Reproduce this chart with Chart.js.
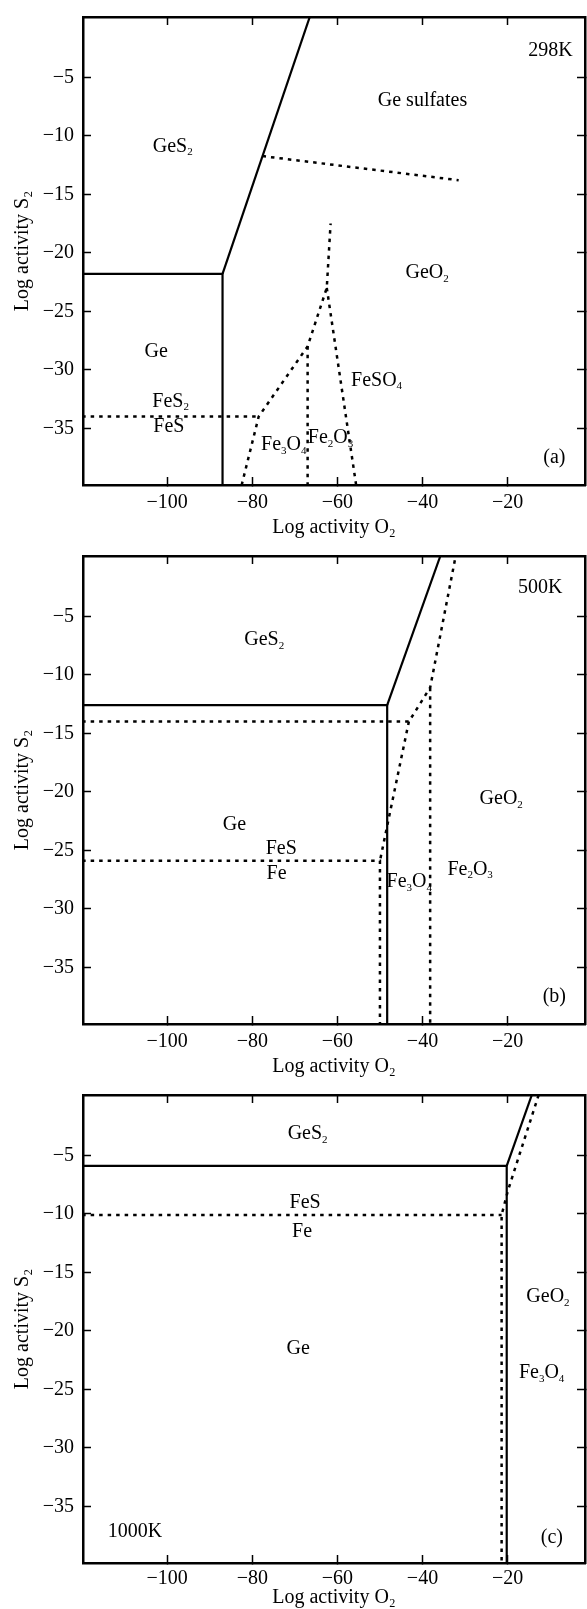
<!DOCTYPE html>
<html>
<head>
<meta charset="utf-8">
<script src="https://cdn.jsdelivr.net/npm/chart.js@4.4.1/dist/chart.umd.min.js"></script>
<style>
  html, body { margin: 0; padding: 0; background: #fff; }
  #wrap { position: relative; width: 587px; height: 1609px; }
  canvas { position: absolute; left: 0; }
</style>
</head>
<body>
<div id="wrap">
  <canvas id="c298" width="587" height="539" style="top:0"></canvas>
  <canvas id="c500" width="587" height="539" style="top:539px"></canvas>
  <canvas id="c1000" width="587" height="531" style="top:1078px"></canvas>
</div>
<script>
// axis ranges and ticks (log activity)
const X_MIN = -119.8, X_MAX = -1.8;
const Y_MIN = -39.85, Y_MAX = 0.15;
const xTicks = [-100, -80, -60, -40, -20];
const yTicks = [-5, -10, -15, -20, -25, -30, -35];

// (a) 298K  -- [log aO2, log aS2]
const a_geSolid = [[-120, -21.8], [-87, -21.8], [-87, -40]];
const a_geSlant = [[-87, -21.8], [-66.5, 0.15]];
const a_sulfate = [[-77.6, -11.74], [-31.5, -13.8]];
const a_feS2FeS = [[-120, -34], [-78.5, -34]];
const a_feLeft = [[-82.5, -39.85], [-78.5, -34], [-67, -28], [-62.5, -23], [-61.6, -17.5]];
const a_feMid = [[-67, -28], [-67, -40]];
const a_feRight = [[-62.5, -23], [-55.6, -39.85]];
const a_labels = [
  ['298K', -9.9, -2.7], ['Ge sulfates', -40, -7], ['GeS_2', -98.7, -10.9],
  ['GeO_2', -38.9, -21.7], ['Ge', -102.6, -28.5], ['FeS_2', -99.2, -32.7],
  ['FeS', -99.6, -34.9], ['FeSO_4', -50.8, -30.9], ['Fe_3O_4', -72.6, -36.4],
  ['Fe_2O_3', -61.6, -35.8], ['(a)', -9, -37.55]
];

// (b) 500K
const b_geSolid = [[-120, -12.6], [-48.3, -12.6], [-48.3, -40]];
const b_geSlant = [[-48.3, -12.6], [-35.8, 0.15]];
const b_feUpper = [[-120, -14], [-43.2, -14], [-38.2, -11.1], [-32.2, 0.15]];
const b_feHem = [[-38.2, -11.1], [-38.2, -40]];
const b_feMag = [[-43.2, -14], [-50, -25.9]];
const b_feLower = [[-120, -25.9], [-50, -25.9], [-50, -40]];
const b_labels = [
  ['500K', -12.3, -2.6], ['GeS_2', -77.2, -7], ['GeO_2', -21.5, -20.6],
  ['Ge', -84.2, -22.8], ['FeS', -73.2, -24.9], ['Fe', -74.3, -27.05],
  ['Fe_3O_4', -43.1, -27.7], ['Fe_2O_3', -28.8, -26.65], ['(b)', -9, -37.5]
];

// (c) 1000K
const c_geSolid = [[-120, -5.9], [-20.2, -5.9], [-20.2, -40]];
const c_geSlant = [[-20.2, -5.9], [-14.3, 0.15]];
const c_feRight = [[-12.7, 0.15], [-19.9, -8], [-21.4, -10.1], [-21.4, -40]];
const c_feS = [[-120, -10.1], [-21.4, -10.1]];
const c_labels = [
  ['GeS_2', -67, -3.2], ['FeS', -67.6, -9.1], ['Fe', -68.3, -11.5],
  ['Ge', -69.2, -21.5], ['GeO_2', -10.5, -17.1], ['Fe_3O_4', -12, -23.6],
  ['1000K', -107.6, -37.2], ['(c)', -9.6, -37.7]
];

const serif = '"Liberation Serif", "Times New Roman", serif';

function pts(arr) {
  return arr.map(([x, y]) => ({x, y}));
}
function solid(arr) {
  return {data: pts(arr), borderColor: '#000', borderWidth: 2.2, showLine: true, pointRadius: 0, fill: false};
}
function dashed(arr) {
  return Object.assign(solid(arr), {borderWidth: 2.5, borderDash: [3.5, 5]});
}

// region names, "_n" -> subscript digit
const regionText = {
  id: 'regionText',
  afterDatasetsDraw(chart, args, opts) {
    const ctx = chart.ctx;
    const xs = chart.scales.x, ys = chart.scales.y;
    ctx.save();
    ctx.fillStyle = '#000';
    ctx.textBaseline = 'middle';
    ctx.textAlign = 'left';
    opts.items.forEach(([txt, vx, vy]) => {
      const parts = txt.split(/(_\d)/).filter(p => p !== '');
      let w = 0;
      parts.forEach(p => {
        ctx.font = p[0] === '_' ? '11px ' + serif : '20px ' + serif;
        w += ctx.measureText(p[0] === '_' ? p.slice(1) : p).width;
      });
      let px = xs.getPixelForValue(vx) - w / 2;
      const py = ys.getPixelForValue(vy);
      parts.forEach(p => {
        if (p[0] === '_') {
          ctx.font = '11px ' + serif;
          ctx.fillText(p.slice(1), px, py + 6);
          px += ctx.measureText(p.slice(1)).width;
        } else {
          ctx.font = '20px ' + serif;
          ctx.fillText(p, px, py);
          px += ctx.measureText(p).width;
        }
      });
    });
    ctx.restore();
  }
};

const gridOpt = {drawOnChartArea: false, drawTicks: true, tickLength: -8, tickWidth: 1.5, color: '#000'};
const borderOpt = {display: true, width: 2.5, color: '#000'};
const minus = v => String(v).replace('-', '\u2212');

// fixed box sizes so the plot frame sits where the figure has it
function fixBox(prop, size) {
  return s => {
    s[prop] = size;
    s.paddingTop = 0; s.paddingBottom = 0; s.paddingLeft = 0; s.paddingRight = 0;
  };
}

function makeScales(bottomH, tickPad) {
  return {
    x: {
      type: 'linear', axis: 'x', position: 'bottom', min: X_MIN, max: X_MAX,
      afterBuildTicks: s => { s.ticks = xTicks.map(v => ({value: v})); },
      afterFit: fixBox('height', bottomH),
      grid: gridOpt, border: borderOpt,
      ticks: {color: '#000', font: {family: serif, size: 20}, padding: tickPad, maxRotation: 0, autoSkip: false, callback: minus},
      title: {display: true, text: 'Log activity O₂', color: '#000', font: {family: serif, size: 20, lineHeight: 1}, padding: {top: 0, bottom: 1}}
    },
    x2: {
      type: 'linear', axis: 'x', position: 'top', min: X_MIN, max: X_MAX,
      afterBuildTicks: s => { s.ticks = xTicks.map(v => ({value: v})); },
      afterFit: fixBox('height', 17),
      grid: gridOpt, border: borderOpt, ticks: {display: false}
    },
    y: {
      type: 'linear', axis: 'y', position: 'left', min: Y_MIN, max: Y_MAX,
      afterBuildTicks: s => { s.ticks = yTicks.map(v => ({value: v})); },
      afterFit: fixBox('width', 83),
      grid: gridOpt, border: borderOpt,
      ticks: {color: '#000', font: {family: serif, size: 20}, padding: 17, autoSkip: false, callback: minus},
      title: {display: true, text: 'Log activity S₂', color: '#000', font: {family: serif, size: 20, lineHeight: 1}, padding: {top: 13, bottom: 0}}
    },
    y2: {
      type: 'linear', axis: 'y', position: 'right', min: Y_MIN, max: Y_MAX,
      afterBuildTicks: s => { s.ticks = yTicks.map(v => ({value: v})); },
      afterFit: fixBox('width', 2),
      grid: gridOpt, border: borderOpt, ticks: {display: false}
    }
  };
}

function makePanel(id, datasets, labels, bottomH, tickPad) {
  return new Chart(document.getElementById(id), {
    type: 'scatter',
    data: {datasets: datasets},
    options: {
      responsive: false,
      animation: false,
      layout: {padding: 0},
      scales: makeScales(bottomH, tickPad),
      plugins: {legend: {display: false}, tooltip: {enabled: false}, regionText: {items: labels}}
    },
    plugins: [regionText]
  });
}

makePanel('c298', [
  solid(a_geSolid), solid(a_geSlant), dashed(a_sulfate), dashed(a_feS2FeS),
  dashed(a_feLeft), dashed(a_feMid), dashed(a_feRight)
], a_labels, 54, 14);

makePanel('c500', [
  solid(b_geSolid), solid(b_geSlant), dashed(b_feUpper), dashed(b_feHem),
  dashed(b_feMag), dashed(b_feLower)
], b_labels, 54, 13.5);

makePanel('c1000', [
  solid(c_geSolid), solid(c_geSlant), dashed(c_feRight), dashed(c_feS)
], c_labels, 46, 11.3);
</script>
</body>
</html>
